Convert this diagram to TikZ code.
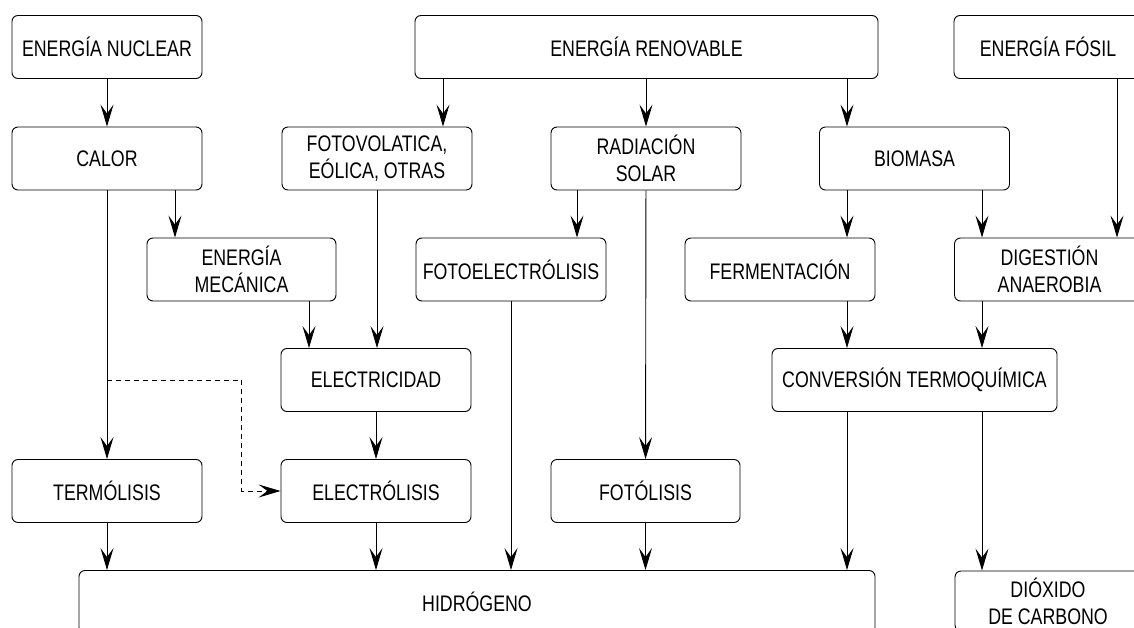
\documentclass[tikz,border=0pt]{standalone}
\usepackage{fontspec}
\setmainfont{Liberation Sans}[FakeStretch=0.79]
\usetikzlibrary{arrows.meta}

\begin{document}
\begin{tikzpicture}[x=1pt, y=-1pt, line width=0.9pt]
                \tikzset{
                    box/.style={draw, rounded corners=6pt, minimum width=190pt, minimum height=63pt,
                        inner sep=0pt, align=center, font=\fontsize{22.5}{27}\selectfont},
                    arr/.style={-{Stealth[length=22pt, width=13pt, inset=9pt]}}
                }
                \clip (0,0) rectangle (1134,628);

                % SOURCES
                \node[box] (nuclear) at (107,47) {ENERGÍA NUCLEAR};
                \node[box, minimum width=463pt] (renovable) at (646.5,47) {ENERGÍA RENOVABLE};
                \node[box, minimum width=188pt] (fosil) at (1048,47) {ENERGÍA FÓSIL};

                % SECOND ROW
                \node[box] (calor) at (107,158.5) {CALOR};
                \node[box] (fotovol) at (377,158.5) {FOTOVOLATICA,\\EÓLICA, OTRAS};
                \node[box] (radiacion) at (646,158.5) {RADIACIÓN\\SOLAR};
                \node[box] (biomasa) at (914.5,158.5) {BIOMASA};

                % THIRD ROW
                \node[box, minimum width=189pt] (mecanica) at (241.5,269.5) {ENERGÍA\\MECÁNICA};
                \node[box] (fotoelec) at (511,269.5) {FOTOELECTRÓLISIS};
                \node[box] (fermenta) at (780,269.5) {FERMENTACIÓN};
                \node[box] (digestion) at (1049.5,269.5) {DIGESTIÓN\\ANAEROBIA};

                % FOURTH ROW
                \node[box] (electricidad) at (376,380) {ELECTRICIDAD};
                \node[box, minimum width=285pt] (conversion) at (914.5,380) {CONVERSIÓN TERMOQUÍMICA};

                % PROCESSES
                \node[box] (termolisis) at (107,491) {TERMÓLISIS};
                \node[box] (electrolisis) at (376,491) {ELECTRÓLISIS};
                \node[box, minimum width=189pt] (fotolisis) at (645.5,491) {FOTÓLISIS};

                % PRODUCTS
                \node[box, minimum width=796pt] (hidrogeno) at (477,602) {HIDRÓGENO};
                \node[box, minimum width=186pt, minimum height=60pt] (dioxido) at (1048,601) {DIÓXIDO\\DE CARBONO};

                % TRANSITIONS
                \draw[arr] (nuclear) -- (calor);
                \draw[arr] ([xshift=66pt]fotovol.north |- renovable.south) -- ([xshift=66pt]fotovol.north);
                \draw[arr] (radiacion.north |- renovable.south) -- (radiacion.north);
                \draw[arr] ([xshift=-67.5pt]biomasa.north |- renovable.south) -- ([xshift=-67.5pt]biomasa.north);
                \draw[arr] ([xshift=67.5pt]digestion.north |- fosil.south) -- ([xshift=67.5pt]digestion.north);

                \draw[arr] (calor) -- (termolisis);
                \draw[arr] ([xshift=-66.5pt]mecanica.north |- calor.south) -- ([xshift=-66.5pt]mecanica.north);
                \draw[arr] (fotovol.south) -- (fotovol.south |- electricidad.north);
                \draw[arr] ([xshift=66pt]fotoelec.north |- radiacion.south) -- ([xshift=66pt]fotoelec.north);
                \draw[arr] (radiacion) -- (fotolisis);
                \draw[arr] ([xshift=67pt]fermenta.north |- biomasa.south) -- ([xshift=67pt]fermenta.north);
                \draw[arr] ([xshift=-67.5pt]digestion.north |- biomasa.south) -- ([xshift=-67.5pt]digestion.north);

                \draw[arr] ([xshift=-67pt]electricidad.north |- mecanica.south) -- ([xshift=-67pt]electricidad.north);
                \draw[arr] ([xshift=-67.5pt]conversion.north |- fermenta.south) -- ([xshift=-67.5pt]conversion.north);
                \draw[arr] ([xshift=67.5pt]conversion.north |- digestion.south) -- ([xshift=67.5pt]conversion.north);

                \draw[arr] (electricidad) -- (electrolisis);
                \draw[arr, dashed, dash pattern=on 5pt off 4pt] (calor.south |- electricidad.center)
                    -| ([xshift=-39pt]electrolisis.west) -- (electrolisis.west);

                \draw[arr] (termolisis.south) -- (termolisis.south |- hidrogeno.north);
                \draw[arr] (electrolisis.south) -- (electrolisis.south |- hidrogeno.north);
                \draw[arr] (fotoelec.south) -- (fotoelec.south |- hidrogeno.north);
                \draw[arr] (fotolisis.south) -- (fotolisis.south |- hidrogeno.north);
                \draw[arr] ([xshift=-67.5pt]conversion.south) -- ([xshift=-67.5pt]conversion.south |- hidrogeno.north);
                \draw[arr] ([xshift=67.5pt]conversion.south) -- ([xshift=67.5pt]conversion.south |- dioxido.north);

            \end{tikzpicture}
\end{document}
